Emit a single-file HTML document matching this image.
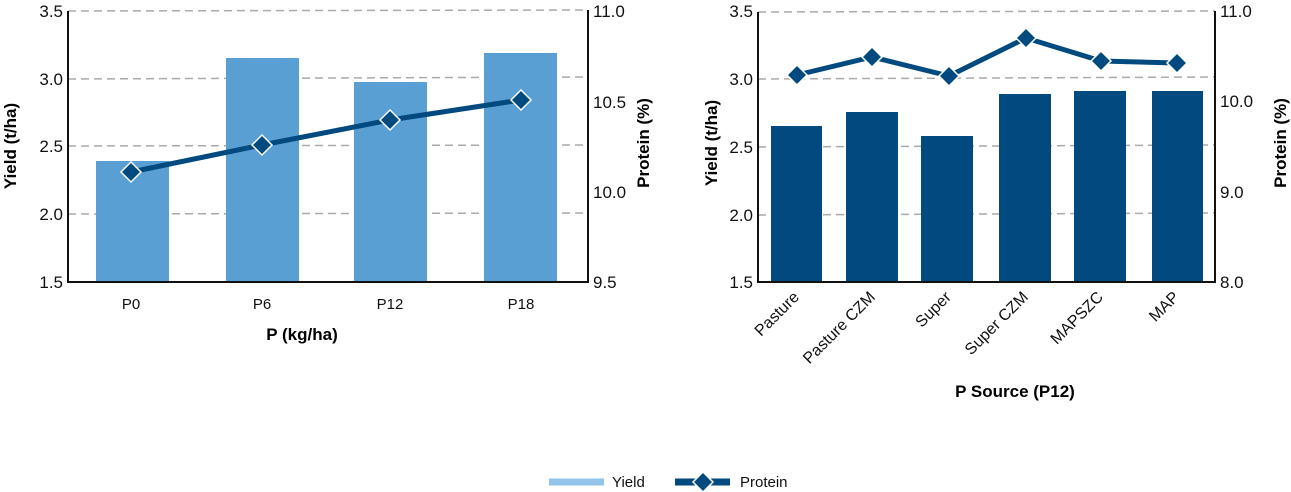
<!DOCTYPE html>
<html><head><meta charset="utf-8"><style>
html,body{margin:0;padding:0;background:#fff;}
svg{display:block;font-family:"Liberation Sans",Arial,sans-serif;}
</style></head><body>
<svg width="1291" height="492" viewBox="0 0 1291 492" xmlns="http://www.w3.org/2000/svg">
<g stroke="#aaa" stroke-width="1.5" stroke-dasharray="8,5">
<line x1="68" y1="11" x2="588" y2="10"/>
<line x1="68" y1="79" x2="588" y2="77"/>
<line x1="68" y1="146" x2="588" y2="145"/>
<line x1="68" y1="214" x2="588" y2="213"/>
<line x1="758" y1="12" x2="1215" y2="11"/>
<line x1="758" y1="79" x2="1215" y2="77"/>
<line x1="758" y1="147" x2="1215" y2="145"/>
<line x1="758" y1="215" x2="1215" y2="213"/>
</g>
<g fill="#5a9fd4">
<rect x="96" y="161" width="73" height="121"/>
<rect x="226" y="58" width="73" height="224"/>
<rect x="354" y="82" width="73" height="200"/>
<rect x="484" y="53" width="73" height="229"/>
</g>
<g stroke="#111" stroke-width="2" fill="none">
<polyline points="68,11 68,282 588,282 588,10"/>
<polyline points="758,12 758,282 1215,282 1215,11"/>
</g>
<polyline points="131,172 262,145 390,120 521,100" fill="none" stroke="#004a80" stroke-width="5"/>
<g fill="#004a80" stroke="#fff" stroke-width="1.5">
<polygon points="131,162 141,172 131,182 121,172"/>
<polygon points="262,135 272,145 262,155 252,145"/>
<polygon points="390,110 400,120 390,130 380,120"/>
<polygon points="521,90 531,100 521,110 511,100"/>
</g>
<g font-size="17" fill="#111" text-anchor="end">
<text x="63" y="17">3.5</text><text x="63" y="85">3.0</text><text x="63" y="152">2.5</text><text x="63" y="220">2.0</text><text x="63" y="288">1.5</text>
</g>
<g font-size="17" fill="#111">
<text x="593" y="17">11.0</text><text x="593" y="108">10.5</text><text x="593" y="198">10.0</text><text x="593" y="288">9.5</text>
</g>
<g font-size="15" fill="#111" text-anchor="middle">
<text x="131" y="309">P0</text><text x="262" y="309">P6</text><text x="390" y="309">P12</text><text x="521" y="309">P18</text>
</g>
<text x="302" y="340" font-size="17" font-weight="bold" text-anchor="middle">P (kg/ha)</text>
<text transform="translate(16,146) rotate(-90)" font-size="17" font-weight="bold" text-anchor="middle">Yield (t/ha)</text>
<text transform="translate(649,143) rotate(-90)" font-size="17" font-weight="bold" text-anchor="middle">Protein (%)</text>

<g fill="#004a80">
<rect x="771" y="126" width="51" height="156"/>
<rect x="846" y="112" width="52" height="170"/>
<rect x="921" y="136" width="52" height="146"/>
<rect x="999" y="94" width="52" height="188"/>
<rect x="1074" y="91" width="52" height="191"/>
<rect x="1152" y="91" width="51" height="191"/>
</g>
<line x1="758" y1="282" x2="1215" y2="282" stroke="#111" stroke-width="2"/>
<polyline points="797,75 872,57 949,76 1026,38 1101,61 1177,63" fill="none" stroke="#004a80" stroke-width="5"/>
<g fill="#004a80" stroke="#fff" stroke-width="1.5">
<polygon points="797,65 807,75 797,85 787,75"/>
<polygon points="872,47 882,57 872,67 862,57"/>
<polygon points="949,66 959,76 949,86 939,76"/>
<polygon points="1026,28 1036,38 1026,48 1016,38"/>
<polygon points="1101,51 1111,61 1101,71 1091,61"/>
<polygon points="1177,53 1187,63 1177,73 1167,63"/>
</g>
<g font-size="17" fill="#111" text-anchor="end">
<text x="753" y="17">3.5</text><text x="753" y="85">3.0</text><text x="753" y="153">2.5</text><text x="753" y="221">2.0</text><text x="753" y="288">1.5</text>
</g>
<g font-size="17" fill="#111">
<text x="1220" y="17">11.0</text><text x="1220" y="107">10.0</text><text x="1220" y="198">9.0</text><text x="1220" y="288">8.0</text>
</g>
<g font-size="16" fill="#111" text-anchor="end">
<text transform="translate(800,298) rotate(-45)">Pasture</text>
<text transform="translate(876,298) rotate(-45)">Pasture CZM</text>
<text transform="translate(952,298) rotate(-45)">Super</text>
<text transform="translate(1029,298) rotate(-45)">Super CZM</text>
<text transform="translate(1104,298) rotate(-45)">MAPSZC</text>
<text transform="translate(1180,298) rotate(-45)">MAP</text>
</g>
<text x="1015" y="397" font-size="17" font-weight="bold" text-anchor="middle">P Source (P12)</text>
<text transform="translate(717,143) rotate(-90)" font-size="17" font-weight="bold" text-anchor="middle">Yield (t/ha)</text>
<text transform="translate(1286,143) rotate(-90)" font-size="17" font-weight="bold" text-anchor="middle">Protein (%)</text>

<line x1="549" y1="482" x2="604" y2="482" stroke="#92c3ea" stroke-width="7"/>
<text x="612" y="487" font-size="15" fill="#111">Yield</text>
<line x1="675" y1="482" x2="730" y2="482" stroke="#004a80" stroke-width="7"/>
<polygon points="703,472 713,482 703,492 693,482" fill="#004a80" stroke="#fff" stroke-width="1.5"/>
<text x="740" y="487" font-size="15" fill="#111">Protein</text>
</svg>
</body></html>
